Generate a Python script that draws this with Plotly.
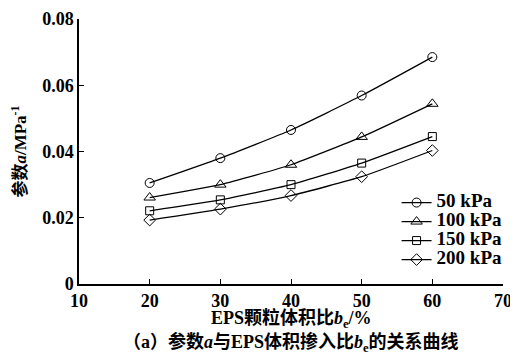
import plotly.graph_objects as go

be = [20, 30, 40, 50, 60]
a_50 = [0.0305, 0.0380, 0.0465, 0.0569, 0.0685]
a_100 = [0.0261, 0.0300, 0.0360, 0.0444, 0.0544]
a_150 = [0.0221, 0.0254, 0.0300, 0.0365, 0.0445]
a_200 = [0.0193, 0.0226, 0.0267, 0.0324, 0.0403]
names = ["50 kPa", "100 kPa", "150 kPa", "200 kPa"]
symbols = ["circle-open", "triangle-up-open", "square-open", "diamond-open"]
sizes = [9, 10, 8, 9]
series = [a_50, a_100, a_150, a_200]
xticks = [10, 20, 30, 40, 50, 60, 70]
yticks = [0, 0.02, 0.04, 0.06, 0.08]
yticklabels = ["0", "0.02", "0.04", "0.06", "0.08"]

font_main = "Liberation Serif, Times New Roman, Noto Sans CJK SC, serif"

fig = go.Figure()
for nm, sym, sz, ys in zip(names, symbols, sizes, series):
    fig.add_trace(go.Scatter(
        x=be, y=ys, name='<span style="font-size:19px"><b>%s</b></span>' % nm,
        mode="lines+markers",
        line=dict(color="black", width=1.3, shape="spline", smoothing=0.5),
        marker=dict(symbol=sym, size=sz, color="black",
                    line=dict(color="black", width=1.0)),
    ))

# page has an 8px body margin; figure sized to compensate
fig.update_layout(
    width=510, height=345,
    margin=dict(l=71, r=15, t=11, b=69, autoexpand=False),
    paper_bgcolor="white", plot_bgcolor="white",
    font=dict(family=font_main, size=18, color="black"),
    showlegend=True,
    legend=dict(x=0.749, y=0.362, xanchor="left", yanchor="top",
                bgcolor="rgba(0,0,0,0)", tracegroupgap=0,
                font=dict(size=12, family=font_main),
                itemwidth=30),
    xaxis=dict(range=[10, 70], tickvals=xticks,
               ticktext=["<b>%d</b>" % v for v in xticks],
               ticks="inside", ticklen=5, tickcolor="black",
               showline=True, linecolor="black", linewidth=1.5,
               showgrid=False, zeroline=False, automargin=False,
               tickfont=dict(size=18, family=font_main)),
    yaxis=dict(range=[0, 0.08], tickvals=yticks,
               ticktext=["<b>%s</b>" % t for t in yticklabels],
               ticks="inside", ticklen=5, tickcolor="black",
               showline=True, linecolor="black", linewidth=1.5,
               showgrid=False, zeroline=False, automargin=False,
               tickfont=dict(size=18, family=font_main),
               title=dict(text="<b>参数<i>a</i>/MPa<sup>-1</sup></b>",
                          font=dict(size=17, family=font_main), standoff=14)),
)
fig.add_annotation(text="<b>EPS颗粒体积比<i>b</i><sub>e</sub>/%</b>",
                   xref="paper", yref="paper", x=0.5, y=-0.133, yanchor="middle",
                   showarrow=False, font=dict(size=18, family=font_main))
fig.add_annotation(text="<b>（a）参数<i>a</i>与EPS体积掺入比<i>b</i><sub>e</sub>的关系曲线</b>",
                   xref="paper", yref="paper", x=0.5, y=-0.222, yanchor="middle",
                   showarrow=False, font=dict(size=18, family=font_main))
fig.write_html("out.html")
